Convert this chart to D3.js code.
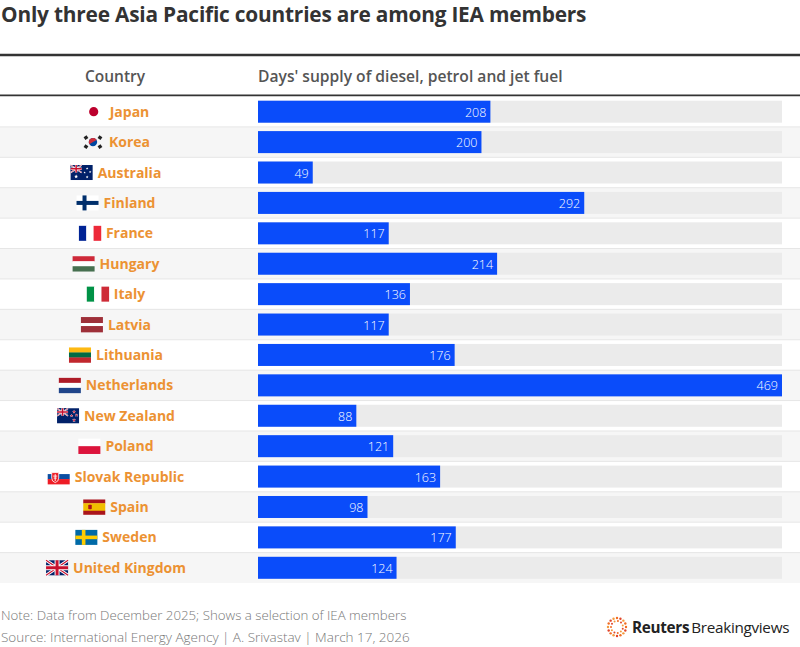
<!DOCTYPE html>
<html><head><meta charset="utf-8">
<script src="https://cdn.jsdelivr.net/npm/d3@7"></script>
<style>
html,body{margin:0;padding:0;background:#fff;}
svg{display:block;font-family:"Open Sans","Noto Sans",sans-serif;}
</style></head>
<body>
<svg id="chart" width="800" height="647"></svg>
<script>
const countries = ["Japan","Korea","Australia","Finland","France","Hungary","Italy","Latvia","Lithuania","Netherlands","New Zealand","Poland","Slovak Republic","Spain","Sweden","United Kingdom"];
const flagCodes = ["jp","kr","au","fi","fr","hu","it","lv","lt","nl","nz","pl","sk","es","se","gb"];
const days = [208,200,49,292,117,214,136,117,176,469,88,121,163,98,177,124];

const title = "Only three Asia Pacific countries are among IEA members";
const colHeaders = ["Country","Days' supply of diesel, petrol and jet fuel"];
const note = "Note: Data from December 2025; Shows a selection of IEA members";
const source = "Source: International Energy Agency | A. Srivastav | March 17, 2026";

const svg = d3.select("#chart");
const W = 800;
const rowTop = 96.5, rowBottom = 583;
const y = d3.scaleBand().domain(countries).range([rowTop, rowBottom]).paddingInner(0).paddingOuter(0);
const x = d3.scaleLinear().domain([0, d3.max(days)]).range([258, 782]);
const barH = 22;

function fitText(sel, width) {
  const w = sel.node().getComputedTextLength();
  const fs = parseFloat(sel.attr("font-size"));
  sel.attr("font-size", fs * width / w);
}

// Title
const tt = svg.append("text").attr("x", 1).attr("y", 22).attr("font-size", 20).attr("font-weight", 700)
  .attr("fill", "#333").attr("letter-spacing", -0.2).text(title);
fitText(tt, 585);

// header lines
svg.append("line").attr("x1", 0).attr("x2", W).attr("y1", 55).attr("y2", 55).attr("stroke", "#333").attr("stroke-width", 2.5);
svg.append("line").attr("x1", 0).attr("x2", W).attr("y1", 95.5).attr("y2", 95.5).attr("stroke", "#333").attr("stroke-width", 2);
svg.append("text").attr("x", 115).attr("y", 81.5).attr("text-anchor", "middle").attr("font-size", 15.5).attr("font-weight", 600).attr("fill", "#555").text(colHeaders[0]);
const h2 = svg.append("text").attr("x", 258).attr("y", 81.5).attr("font-size", 15.5).attr("font-weight", 600).attr("fill", "#555").text(colHeaders[1]);
fitText(h2, 305);

const rows = svg.append("g").selectAll("g").data(countries).join("g")
  .attr("transform", d => `translate(0,${y(d)})`);

rows.append("rect").attr("x", 0).attr("width", W).attr("height", y.bandwidth())
  .attr("fill", (d, i) => i % 2 ? "#f6f6f6" : "#fff");
rows.filter((d, i) => i > 0).append("line").attr("x1", 0).attr("x2", W).attr("y1", 0).attr("y2", 0)
  .attr("stroke", "#e6e6e6").attr("stroke-width", 1);

const off = (y.bandwidth() - barH) / 2;
rows.append("rect").attr("x", x(0)).attr("y", off).attr("width", x(d3.max(days)) - x(0)).attr("height", barH).attr("fill", "#ebebeb");
rows.append("rect").attr("x", x(0)).attr("y", off).attr("width", (d, i) => x(days[i]) - x(0)).attr("height", barH).attr("fill", "#0a4cfa");
rows.append("text").attr("x", (d, i) => x(days[i]) - 4).attr("y", y.bandwidth() / 2 + 5)
  .attr("text-anchor", "end").attr("font-size", 12.5).attr("font-weight", 300).attr("fill", "#fff")
  .text((d, i) => days[i]);

// Flags
const FW = 22, FH = 15;
const navy = "#012169", red = "#c8102e";
function unionJack(g, w, h) {
  g.append("rect").attr("width", w).attr("height", h).attr("fill", navy);
  g.append("path").attr("d", `M0,0L${w},${h}M${w},0L0,${h}`).attr("stroke", "#fff").attr("stroke-width", h * 0.2);
  g.append("path").attr("d", `M0,0L${w},${h}M${w},0L0,${h}`).attr("stroke", red).attr("stroke-width", h * 0.07);
  g.append("path").attr("d", `M${w/2},0V${h}M0,${h/2}H${w}`).attr("stroke", "#fff").attr("stroke-width", h * 0.33);
  g.append("path").attr("d", `M${w/2},0V${h}M0,${h/2}H${w}`).attr("stroke", red).attr("stroke-width", h * 0.2);
}
function hStripes(g, cols, weights) {
  weights = weights || cols.map(() => 1);
  const tot = d3.sum(weights); let yy = 0;
  cols.forEach((c, i) => { const hh = FH * weights[i] / tot; g.append("rect").attr("y", yy).attr("width", FW).attr("height", hh + 0.3).attr("fill", c); yy += hh; });
}
function vStripes(g, cols) {
  cols.forEach((c, i) => g.append("rect").attr("x", i * FW / 3).attr("width", FW / 3 + 0.3).attr("height", FH).attr("fill", c));
}
function star(g, cx, cy, r, fill) {
  const pts = d3.range(10).map(k => { const a = -Math.PI / 2 + k * Math.PI / 5; const rr = k % 2 ? r * 0.45 : r; return [cx + rr * Math.cos(a), cy + rr * Math.sin(a)]; });
  g.append("polygon").attr("points", pts.map(p => p.join(",")).join(" ")).attr("fill", fill);
}
const flagDraw = {
  jp: g => { g.append("circle").attr("cx", FW/2).attr("cy", FH/2).attr("r", 4.6).attr("fill", "#bc002d"); },
  kr: g => {
    g.append("circle").attr("cx", FW/2).attr("cy", FH/2).attr("r", 4.2).attr("fill", "#0047a0");
    g.append("path").attr("d", d3.arc()({innerRadius:0, outerRadius:4.2, startAngle:-Math.PI/2, endAngle:Math.PI/2})).attr("transform", `translate(${FW/2},${FH/2}) rotate(-30)`).attr("fill", "#cd2e3a");
    [[4,3],[18,3],[4,12],[18,12]].forEach(p => g.append("rect").attr("x", p[0]-1.8).attr("y", p[1]-1.6).attr("width", 3.6).attr("height", 3.2).attr("fill", "#222").attr("transform", `rotate(${(p[0]<11)===(p[1]<7)?-35:35},${p[0]},${p[1]})`));
  },
  au: g => {
    g.append("rect").attr("width", FW).attr("height", FH).attr("fill", navy);
    unionJack(g.append("g"), FW/2, FH/2);
    star(g, 5.5, 11.5, 2, "#fff"); star(g, 16.5, 3.5, 1.3, "#fff"); star(g, 19.5, 7, 1.3, "#fff"); star(g, 16.5, 12, 1.4, "#fff"); star(g, 14, 7.5, 1.1, "#fff");
  },
  fi: g => {
    g.append("rect").attr("width", FW).attr("height", FH).attr("fill", "#fff");
    g.append("rect").attr("x", 0).attr("y", 5.5).attr("width", FW).attr("height", 4).attr("fill", "#002f6c");
    g.append("rect").attr("x", 6).attr("y", 0).attr("width", 4).attr("height", FH).attr("fill", "#002f6c");
  },
  fr: g => vStripes(g, ["#002395","#fff","#ed2939"]),
  hu: g => hStripes(g, ["#ce2939","#fff","#477050"]),
  it: g => vStripes(g, ["#009246","#fff","#ce2b37"]),
  lv: g => hStripes(g, ["#9e3039","#fff","#9e3039"], [2,1,2]),
  lt: g => hStripes(g, ["#fdb913","#006a44","#c1272d"]),
  nl: g => hStripes(g, ["#ae1c28","#fff","#21468b"]),
  nz: g => {
    g.append("rect").attr("width", FW).attr("height", FH).attr("fill", navy);
    unionJack(g.append("g"), FW/2, FH/2);
    [[17,3.5,1.5],[19.5,7,1.3],[14.5,7.5,1.3],[17,12,1.6]].forEach(s => { star(g, s[0], s[1], s[2] + 0.5, "#fff"); star(g, s[0], s[1], s[2], red); });
  },
  pl: g => hStripes(g, ["#fff","#dc143c"]),
  sk: g => {
    hStripes(g, ["#fff","#0b4ea2","#ee1c25"]);
    g.append("path").attr("d", "M4,3.5H11V9Q11,12.5 7.5,13.5Q4,12.5 4,9Z").attr("fill", "#ee1c25").attr("stroke", "#fff").attr("stroke-width", 0.8);
    g.append("path").attr("d", "M7.5,5V12M5.5,7H9.5M6,9H9").attr("stroke", "#fff").attr("stroke-width", 0.9);
  },
  es: g => {
    hStripes(g, ["#aa151b","#f1bf00","#aa151b"], [1,2,1]);
    g.append("rect").attr("x", 5).attr("y", 5.2).attr("width", 3.5).attr("height", 4.6).attr("fill", "#ad1519").attr("rx", 0.8);
  },
  se: g => {
    g.append("rect").attr("width", FW).attr("height", FH).attr("fill", "#006aa7");
    g.append("rect").attr("x", 0).attr("y", 5.7).attr("width", FW).attr("height", 3.6).attr("fill", "#fecc00");
    g.append("rect").attr("x", 6.5).attr("y", 0).attr("width", 3.6).attr("height", FH).attr("fill", "#fecc00");
  },
  gb: g => unionJack(g, FW, FH)
};

const labelCenter = 116;
rows.each(function(d, i) {
  const row = d3.select(this);
  const t = row.append("text").attr("y", y.bandwidth() / 2 + 5).attr("font-size", 14).attr("font-weight", 700)
    .attr("fill", "#ec9233").text(d);
  const tw = t.node().getComputedTextLength();
  const total = FW + 5 + tw;
  const left = labelCenter - total / 2;
  t.attr("x", left + FW + 5);
  const fg = row.append("g").attr("transform", `translate(${left},${y.bandwidth()/2 - FH/2})`);
  flagDraw[flagCodes[i]](fg);
});

// Footer
const n1 = svg.append("text").attr("x", 1).attr("y", 620).attr("font-size", 13).attr("font-weight", 300).attr("fill", "#777").text(note);
fitText(n1, 406);
const n2 = svg.append("text").attr("x", 1).attr("y", 642).attr("font-size", 13).attr("font-weight", 300).attr("fill", "#777").text(source);
fitText(n2, 409);

// Logo
const logo = svg.append("g").attr("transform", "translate(617,627)");
const dotColors = ["#f26b21","#e0452b","#f39a3b"];
[[9,16,1.2],[6,11,1]].forEach((ring, ri) => {
  d3.range(ring[1]).forEach(k => {
    const a = k / ring[1] * 2 * Math.PI + ri * 0.3;
    logo.append("circle").attr("cx", ring[0] * Math.cos(a)).attr("cy", ring[0] * Math.sin(a)).attr("r", ring[2])
      .attr("fill", dotColors[(k + ri) % 3]);
  });
});
const lt = svg.append("text").attr("x", 632).attr("y", 633).attr("font-size", 17).attr("fill", "#222").attr("letter-spacing", -0.3);
lt.append("tspan").attr("font-weight", 700).text("Reuters");
lt.append("tspan").attr("font-weight", 400).attr("dx", 2).text("Breakingviews");
fitText(lt, 156);
</script>
</body></html>
